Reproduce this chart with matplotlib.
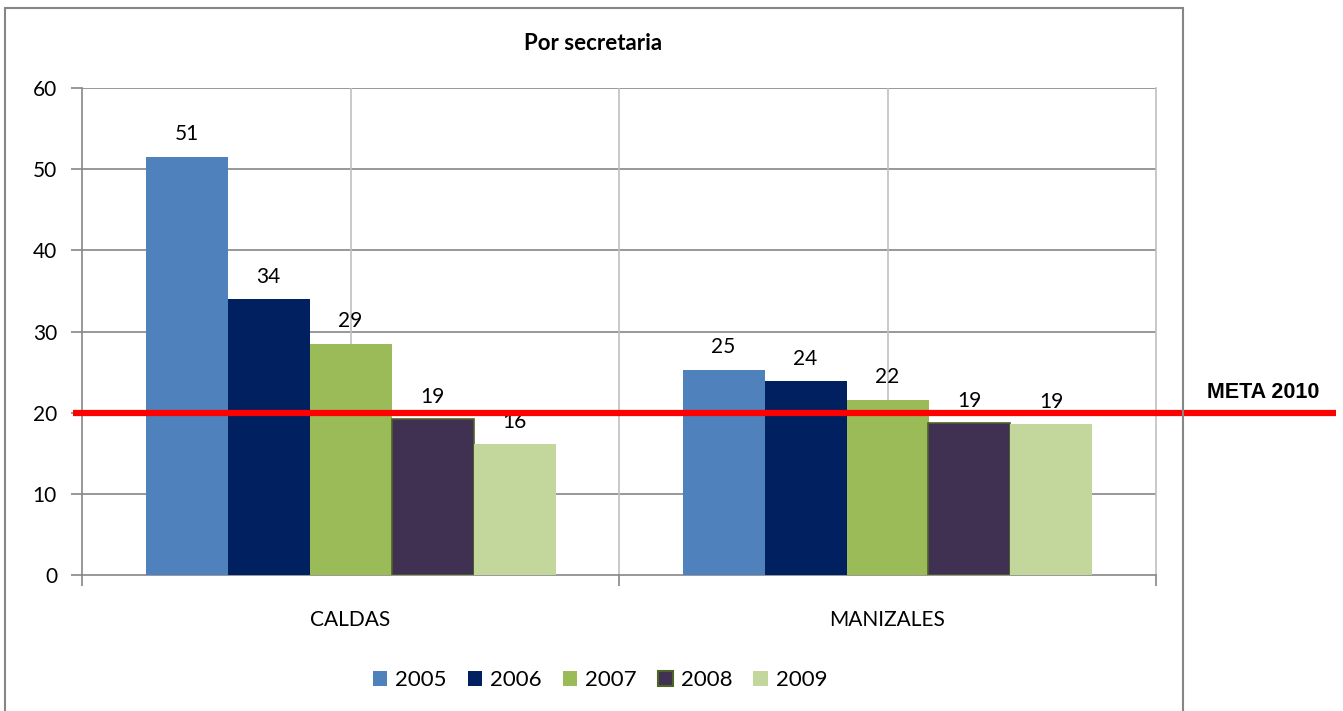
import matplotlib
matplotlib.use("Agg")
import matplotlib.pyplot as plt
import matplotlib.patches as mpatches
from matplotlib.transforms import blended_transform_factory
import numpy as np

categories = ["CALDAS", "MANIZALES"]
years = ["2005", "2006", "2007", "2008", "2009"]
values = {
    "2005": [51.5, 25.3],
    "2006": [34.0, 23.9],
    "2007": [28.5, 21.6],
    "2008": [19.2, 18.7],
    "2009": [16.1, 18.6],
}
labels = {
    "2005": ["51", "25"],
    "2006": ["34", "24"],
    "2007": ["29", "22"],
    "2008": ["19", "19"],
    "2009": ["16", "19"],
}
meta_value = 20
meta_label = "META 2010"
title = "Por secretaria"
yticks = [0, 10, 20, 30, 40, 50, 60]

colors = ["#4f81bd", "#002060", "#9bbb59", "#403152", "#c3d69b"]
edges = ["#4f81bd", "#002060", "#9bbb59", "#4f6228", "#c3d69b"]

W, H = 1343, 711
fig = plt.figure(figsize=(W / 100, H / 100), dpi=100)
fig.patch.set_facecolor("white")
font = ["Lato", "DejaVu Sans"]
plt.rcParams["font.family"] = font

ax = fig.add_axes([82 / W, 136 / H, 1074 / W, 487 / H])
x = np.arange(len(categories))
bw = 82 / 537
for i, y in enumerate(years):
    pos = x + (i - 2) * bw
    bars = ax.bar(pos, values[y], width=bw, color=colors[i], edgecolor=edges[i],
                  linewidth=1.2 if i == 3 else 0, label=y, zorder=3)
    for b, lab in zip(bars, labels[y]):
        ax.annotate(lab, (b.get_x() + b.get_width() / 2, b.get_height()),
                    xytext=(0, 9), textcoords="offset points", ha="center",
                    va="bottom", fontsize=15, color="black", zorder=5)

ax.set_xlim(-0.5, 1.5)
ax.set_ylim(0, 60)
ax.set_yticks(yticks)
ax.set_yticklabels([str(t) for t in yticks], fontsize=15)
for t in yticks[1:]:
    ax.axhline(t, color="#868686", lw=1.2, zorder=1)
for xv in [0, 0.5, 1.0]:
    ax.axvline(xv, color="#c0c0c0", lw=1.2, zorder=1)

ax.set_xticks(x)
ax.set_xticklabels(categories, fontsize=15)
ax.tick_params(axis="x", length=0, pad=25)
ax.set_xticks([-0.5, 0.5, 1.5], minor=True)
ax.tick_params(axis="x", which="minor", length=8, color="#868686", width=1.2)
ax.tick_params(axis="y", length=8, color="#868686", width=1.2, pad=10)
ax.spines["top"].set_visible(False)
ax.spines["left"].set_color("#868686")
ax.spines["bottom"].set_color("#868686")
ax.spines["right"].set_color("#c0c0c0")
for s in ["left", "bottom", "right"]:
    ax.spines[s].set_linewidth(1.2)

tr = blended_transform_factory(fig.transFigure, ax.transData)
ax.plot([73 / W, 1336 / W], [meta_value, meta_value], color="#ff0000", lw=4.5,
        transform=tr, clip_on=False, zorder=6, solid_capstyle="butt")
fig.text(1207 / W, 1 - 393 / H, meta_label, fontsize=15.5, fontweight="bold",
         family=["Liberation Sans", "DejaVu Sans"], ha="left", va="center")

fig.text(593 / W, 1 - 44 / H, title, fontsize=16, fontweight="bold",
         ha="center", va="center")

frame = mpatches.Rectangle((5 / W, -0.05), 1178 / W, 1.05 - 8 / H, fill=False,
                           edgecolor="#868686", lw=1.5, transform=fig.transFigure)
fig.patches.append(frame)

handles = [mpatches.Patch(facecolor=colors[i], edgecolor=edges[i],
                          linewidth=1.5 if i == 3 else 0) for i in range(5)]
fig.legend(handles, years, loc="center", bbox_to_anchor=(600 / W, 1 - 680 / H),
           ncol=5, frameon=False, fontsize=16, handlelength=0.65, handleheight=0.65,
           handletextpad=0.36, columnspacing=0.95)

fig.savefig("out.png", dpi=100, facecolor="white")
